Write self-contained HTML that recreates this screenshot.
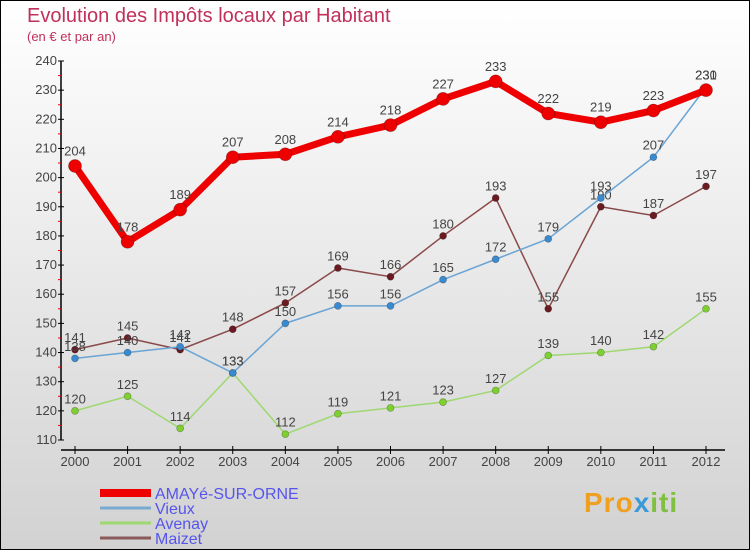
<!DOCTYPE html>
<html><head><meta charset="utf-8"><style>
body{margin:0}
#c{width:750px;height:550px;position:relative;box-sizing:border-box;border:1px solid #000;background:linear-gradient(#ffffff,#d2d2d2);font-family:"Liberation Sans",sans-serif;overflow:hidden}
.t{position:absolute;left:26px;top:4px;font-size:20px;color:#c0305a;font-weight:normal}
.s{position:absolute;left:26px;top:28px;font-size:13px;color:#c0305a}
</style></head><body>
<div id="c">
<div class="t">Evolution des Impôts locaux par Habitant</div>
<div class="s">(en € et par an)</div>
<svg id="svg" width="750" height="550" style="position:absolute;left:-1px;top:-1px;font-family:'Liberation Sans',sans-serif"></svg>
<div style="position:absolute;left:583px;top:486px;font-size:28px;font-weight:bold;color:#f0a020;letter-spacing:1px">Pro<span style="color:#3a9ad8">x</span><span style="color:#80c040">iti</span></div>
</div>
<script>
const years=[2000,2001,2002,2003,2004,2005,2006,2007,2008,2009,2010,2011,2012];
const yTicks=[110,120,130,140,150,160,170,180,190,200,210,220,230,240];
const amaye=[204,178,189,207,208,214,218,227,233,222,219,223,230];
const vieux=[138,140,142,133,150,156,156,165,172,179,193,207,231];
const avenay=[120,125,114,133,112,119,121,123,127,139,140,142,155];
const maizet=[141,145,141,148,157,169,166,180,193,155,190,187,197];
const names=["AMAYé-SUR-ORNE","Vieux","Avenay","Maizet"];
const NS="http://www.w3.org/2000/svg";
const svg=document.getElementById('svg');
const X=i=>75+i*(706-75)/12;
const Y=v=>440-(v-110)*(440-61)/130;
function mk(t,a,p){const e=document.createElementNS(NS,t);for(const k in a)e.setAttribute(k,a[k]);(p||svg).appendChild(e);return e;}
let ax=mk('line',{x1:61,y1:61,x2:61,y2:440,stroke:'#000','stroke-width':1.5});


let bx=mk('line',{x1:61,y1:450,x2:725,y2:450,stroke:'#000','stroke-width':1.5});


yTicks.forEach(v=>{
 mk('line',{x1:58,y1:Y(v),x2:64,y2:Y(v),stroke:'#000'});
 if(v<240)mk('line',{x1:58,y1:Y(v+5),x2:61,y2:Y(v+5),stroke:'#e00'});
 const t=mk('text',{x:57,y:Y(v)+4,'text-anchor':'end','font-size':13,fill:'#444'});t.textContent=v;
 
 
});
years.forEach((y,i)=>{
 mk('line',{x1:X(i),y1:446,x2:X(i),y2:454,stroke:'#000'});
 const t=mk('text',{x:X(i),y:466,'text-anchor':'middle','font-size':13,fill:'#444'});t.textContent=y;
 
 
});
function series(d,col,dot,w,r,name,fs){
 const g=mk('g',{});
 
 
 mk('polyline',{points:d.map((v,i)=>X(i)+','+Y(v)).join(' '),fill:'none',stroke:col,'stroke-width':w,'stroke-linejoin':'round'},g);
 d.forEach((v,i)=>{
  const c=mk('circle',{cx:X(i),cy:Y(v),r:r,fill:dot,stroke:'rgba(0,0,0,0.3)','stroke-width':0.7},g);
  
  
  const t=mk('text',{x:X(i),y:Y(v)-(r+4),'text-anchor':'middle','font-size':fs,fill:'#444'},g);t.textContent=v;
  
  
 });
}
series(avenay,'#9ed870','#7ed030',1.5,3.5,'series-avenay',13);
series(maizet,'#8a4a4a','#6a1a20',1.5,3.5,'series-maizet',13);
series(vieux,'#6aa4d4','#3a8ad0',1.5,3.5,'series-vieux',13);
series(amaye,'#ee0000','#ee0000',7,6.5,'series-amaye',13);
const lc=['#ee0000','#7aaad0','#9ed870','#8a5a5a'],lw=[8,3,3,3],ly=[493,508,523,538];
names.forEach((n,i)=>{
 const g=mk('g',{});
 
 
 mk('line',{x1:100,y1:ly[i],x2:151,y2:ly[i],stroke:lc[i],'stroke-width':lw[i]},g);
 const t=mk('text',{x:155,y:ly[i]+6,'font-size':16,fill:'#5555ee'},g);t.textContent=n;
});
</script>
</body></html>
